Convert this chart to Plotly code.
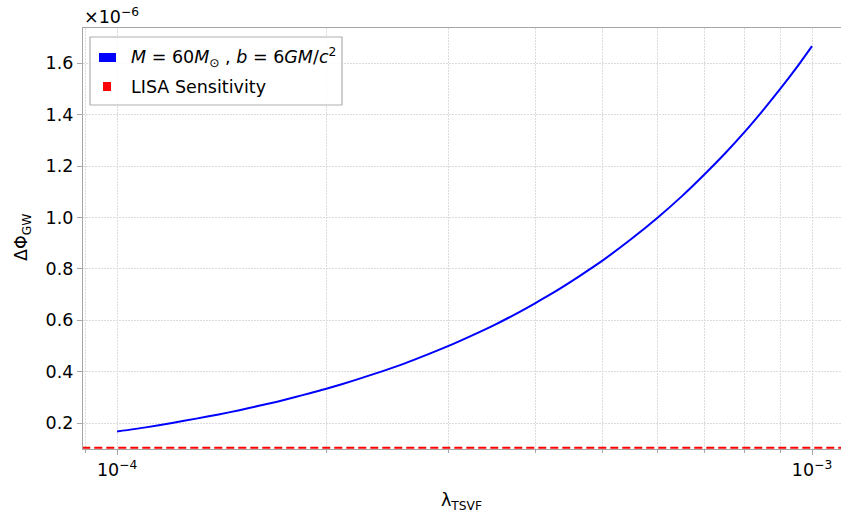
import plotly.graph_objects as go

# ---- data ----
lambda_tsvf = [1.0e-4, 1.1e-4, 1.2e-4, 1.3e-4, 1.4e-4, 1.5e-4, 1.6e-4, 1.7e-4, 1.8e-4, 1.9e-4,
               2.0e-4, 2.2e-4, 2.4e-4, 2.6e-4, 2.8e-4, 3.0e-4, 3.25e-4, 3.5e-4, 3.75e-4,
               4.0e-4, 4.25e-4, 4.5e-4, 4.75e-4, 5.0e-4, 5.5e-4, 6.0e-4, 6.5e-4, 7.0e-4,
               7.5e-4, 8.0e-4, 8.5e-4, 9.0e-4, 9.5e-4, 1.0e-3]
delta_phi_e6 = [0.167, 0.183, 0.200, 0.217, 0.233, 0.250, 0.267, 0.283, 0.300, 0.317,
                0.333, 0.367, 0.400, 0.433, 0.467, 0.500, 0.542, 0.583, 0.625,
                0.667, 0.708, 0.750, 0.792, 0.833, 0.917, 1.000, 1.083, 1.167,
                1.250, 1.333, 1.417, 1.500, 1.583, 1.667]
lisa_sensitivity_e6 = 0.104
series_label = "<i>M</i> = 60<i>M</i><sub>⊙</sub> , <i>b</i> = 6<i>GM</i>/<i>c</i><sup>2</sup>"
lisa_label = "LISA Sensitivity"
y_tick_vals = [0.2, 0.4, 0.6, 0.8, 1.0, 1.2, 1.4, 1.6]
y_tick_text = ["0.2", "0.4", "0.6", "0.8", "1.0", "1.2", "1.4", "1.6"]
x_major_vals = [1e-4, 1e-3]
x_major_text = ["10<sup>−4</sup>", "10<sup>−3</sup>"]
x_minor_vals = [9e-5, 2e-4, 3e-4, 4e-4, 5e-4, 6e-4, 7e-4, 8e-4, 9e-4]

W, H = 841, 519
L, R, T, B = 83, 0, 28, 70
PW, PH = W - L - R, H - T - B
FONT = "DejaVu Sans"
FS = 17.5
SPINE = "#a6a6a6"
GRID = "#dcdcdc"
GRID_DASH = "1.5px,1.5px"


def px(x):
    return (x - L) / PW


def py(y):
    return (T + PH - y) / PH


fig = go.Figure()
fig.add_trace(go.Scatter(x=lambda_tsvf, y=delta_phi_e6, mode="lines",
                         line=dict(color="#0000ff", width=2, shape="spline", smoothing=0.6),
                         name="series", showlegend=False))
fig.add_trace(go.Scatter(x=[10 ** -4.05, 10 ** -2.95], y=[lisa_sensitivity_e6] * 2,
                         mode="lines", line=dict(color="#ff0000", width=2, dash="8px,4px"),
                         name=lisa_label, showlegend=False))

shapes = [
    dict(type="rect", xref="paper", yref="paper", x0=px(90), x1=px(342), y0=py(105), y1=py(37),
         line=dict(color="#b0b0b0", width=1.2), fillcolor="rgba(255,255,255,0.85)", layer="above"),
    dict(type="rect", xref="paper", yref="paper", x0=px(99), x1=px(116), y0=py(62), y1=py(53),
         line=dict(width=0), fillcolor="#0000ff", layer="above"),
    dict(type="rect", xref="paper", yref="paper", x0=px(103), x1=px(111), y0=py(91), y1=py(82),
         line=dict(width=0), fillcolor="#ff0000", layer="above"),
]

annotations = [
    dict(text=series_label, xref="paper", yref="paper", x=px(129), y=py(57),
         xanchor="left", yanchor="middle", showarrow=False,
         font=dict(family=FONT, size=FS, color="#000000")),
    dict(text=lisa_label, xref="paper", yref="paper", x=px(129), y=py(87),
         xanchor="left", yanchor="middle", showarrow=False,
         font=dict(family=FONT, size=FS, color="#000000")),
    dict(text="×10<sup>−6</sup>", xref="paper", yref="paper", x=px(82), y=py(16),
         xanchor="left", yanchor="middle", showarrow=False,
         font=dict(family=FONT, size=FS, color="#000000")),
    dict(text="ΔΦ<sub>GW</sub>", xref="paper", yref="paper", x=px(22), y=py(238),
         xanchor="center", yanchor="middle", textangle=-90, showarrow=False,
         font=dict(family=FONT, size=FS, color="#000000")),
    dict(text="λ<sub>TSVF</sub>", xref="paper", yref="paper", x=px(461), y=py(501),
         xanchor="center", yanchor="middle", showarrow=False,
         font=dict(family=FONT, size=FS, color="#000000")),
]

fig.update_layout(
    width=W, height=H,
    margin=dict(l=L, r=R, t=T, b=B, pad=0, autoexpand=False),
    paper_bgcolor="white", plot_bgcolor="white",
    font=dict(family=FONT, size=FS, color="#000000"),
    shapes=shapes, annotations=annotations,
    showlegend=False,
)
fig.update_xaxes(
    type="log", range=[-4.049, -2.9583], automargin=False,
    tickmode="array", tickvals=x_major_vals, ticktext=x_major_text,
    ticks="outside", ticklen=5, tickcolor=SPINE, tickwidth=1,
    showline=True, linecolor=SPINE, linewidth=1.2, mirror=True,
    showgrid=True, gridcolor=GRID, griddash=GRID_DASH, gridwidth=1,
    zeroline=False, tickfont=dict(family=FONT, size=FS),
    minor=dict(tickmode="array", tickvals=x_minor_vals, ticks="outside", ticklen=3,
               tickcolor=SPINE, showgrid=True, gridcolor=GRID, griddash=GRID_DASH, gridwidth=1),
)
fig.update_yaxes(
    range=[0.0988, 1.7374], automargin=False,
    tickmode="array", tickvals=y_tick_vals, ticktext=y_tick_text,
    ticks="outside", ticklen=5, tickcolor=SPINE, tickwidth=1,
    showline=True, linecolor=SPINE, linewidth=1.2, mirror=True,
    showgrid=True, gridcolor=GRID, griddash=GRID_DASH, gridwidth=1,
    zeroline=False, tickfont=dict(family=FONT, size=FS),
)

fig.write_html("out.html", config={"displayModeBar": False},
               post_script="document.body.style.margin='0';document.body.style.overflow='hidden';")
